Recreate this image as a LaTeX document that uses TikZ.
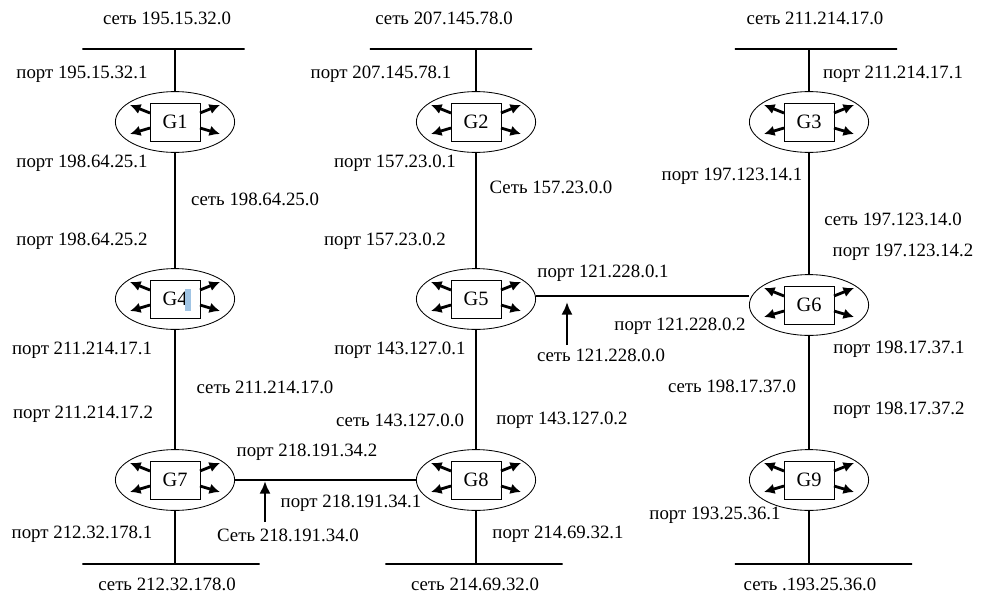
\documentclass[tikz,border=0pt]{standalone}
\usepackage{fontspec}
\setmainfont{Liberation Serif}
\usetikzlibrary{shapes.geometric,arrows.meta}
\definecolor{selblue}{RGB}{160,196,228}

\begin{document}
\begin{tikzpicture}
  [x=0.025cm,y=-0.025cm,
   font=\fontsize{13.4}{16}\selectfont,
   routerN/.style={draw,ellipse,line width=0.6pt,minimum width=2.98cm,minimum height=1.52cm,inner sep=0pt},
   gateN/.style={draw,rectangle,fill=white,line width=0.6pt,minimum width=1.25cm,minimum height=0.95cm,inner sep=0pt,font=\fontsize{14.5}{16}\selectfont},
   topBar/.style={draw,line width=1.2pt,minimum width=4.05cm,minimum height=0pt,inner sep=0pt},
   botBar/.style={topBar,minimum width=4.43cm},
   lbl/.style={inner sep=0pt},
   lnk/.style={line width=1.2pt},
   netArr/.style={line width=1.8pt,-{Latex[length=9pt,width=8pt]}},
   rArr/.style={line width=2pt,-{Latex[length=7.5pt,width=7.5pt]}},
  ]
 \useasboundingbox (0,0) rectangle (983,598);

 % routers
 \node[routerN] (g1) at (175,122) {};
 \node[routerN] (g2) at (476,122) {};
 \node[routerN] (g3) at (809,122) {};
 \node[routerN] (g4) at (175,299) {};
 \node[routerN] (g5) at (476,299) {};
 \node[routerN] (g6) at (809,305) {};
 \node[routerN] (g7) at (175,480) {};
 \node[routerN] (g8) at (476,480) {};
 \node[routerN] (g9) at (809,480) {};

 \foreach \i in {1,...,9}{
   \node[gateN] (b\i) at (g\i) {G\i};
   \draw[rArr] ([shift={(-25,-9)}]g\i.center) -- ++(-20,-8);
   \draw[rArr] ([shift={(-25,6)}]g\i.center)  -- ++(-20,6);
   \draw[rArr] ([shift={(25,-9)}]g\i.center)  -- ++(20,-8);
   \draw[rArr] ([shift={(25,6)}]g\i.center)   -- ++(20,6);
 }
 \fill[selblue] (185,289) rectangle (191,311);

 % network bars
 \node[topBar] (t1) at (163.5,49) {};
 \node[topBar] (t2) at (451,49)   {};
 \node[topBar] (t3) at (816,49)   {};
 \node[botBar] (d1) at (171,564)  {};
 \node[botBar] (d2) at (474,564)  {};
 \node[botBar] (d3) at (823.5,564) {};

 % links
 \draw[lnk] (t1 -| g1) -- (g1);
 \draw[lnk] (t2 -| g2) -- (g2);
 \draw[lnk] (t3 -| g3) -- (g3);
 \draw[lnk] (g1) -- (g4);
 \draw[lnk] (g2) -- (g5);
 \draw[lnk] (g3) -- (g6);
 \draw[lnk] (g4) -- (g7);
 \draw[lnk] (g5) -- (g8);
 \draw[lnk] (g6) -- (g9);
 \draw[lnk] (g7) -- (d1 -| g7);
 \draw[lnk] (g8) -- (d2 -| g8);
 \draw[lnk] (g9) -- (d3 -| g9);
 \draw[lnk] (g7) -- (g8);
 \draw[lnk] ([yshift=0.075cm]g5.east) -- ([yshift=0.075cm]g5.east -| g6.west);

 \coordinate (j78) at (265,481);
 \coordinate (a78) at (265,522);
 \coordinate (j56) at (567,302);
 \coordinate (a56) at (567,345);
 \draw[netArr] (a78) -- (j78);
 \draw[netArr] (a56) -- (j56);

 % network labels
 \node[lbl] (nt1) at (167,18)  {сеть 195.15.32.0};
 \node[lbl] (nt2) at (444,18)  {сеть 207.145.78.0};
 \node[lbl] (nt3) at (815,18)  {сеть 211.214.17.0};
 \node[lbl] (nd1) at (167,584) {сеть 212.32.178.0};
 \node[lbl] (nd2) at (475,584) {сеть 214.69.32.0};
 \node[lbl] (nd3) at (810,584) {сеть .193.25.36.0};
 \node[lbl] (n14) at (255,199) {сеть 198.64.25.0};
 \node[lbl] (n25) at (551,187) {Сеть 157.23.0.0};
 \node[lbl] (n36) at (893,219) {сеть 197.123.14.0};
 \node[lbl] (n47) at (265,387) {сеть 211.214.17.0};
 \node[lbl] (n58) at (400,420) {сеть 143.127.0.0};
 \node[lbl] (n69) at (732,386) {сеть 198.17.37.0};
 \node[lbl] (n56) at (601,355) {сеть 121.228.0.0};
 \node[lbl] (n78) at (288,535) {Сеть 218.191.34.0};

 % port labels
 \node[lbl] (p1a) at (82,74)   {порт 195.15.32.1};
 \node[lbl] (p1b) at (82,163)  {порт 198.64.25.1};
 \node[lbl] (p4a) at (82,241)  {порт 198.64.25.2};
 \node[lbl] (p4b) at (82,350)  {порт 211.214.17.1};
 \node[lbl] (p7a) at (83,414)  {порт 211.214.17.2};
 \node[lbl] (p7b) at (82,534)  {порт 212.32.178.1};
 \node[lbl] (p7c) at (307,452) {порт 218.191.34.2};
 \node[lbl] (p8c) at (351,503) {порт 218.191.34.1};
 \node[lbl] (p2a) at (381,74)  {порт 207.145.78.1};
 \node[lbl] (p2b) at (395,163) {порт 157.23.0.1};
 \node[lbl] (p5a) at (385,241) {порт 157.23.0.2};
 \node[lbl] (p5b) at (400,350) {порт 143.127.0.1};
 \node[lbl] (p8a) at (562,420) {порт 143.127.0.2};
 \node[lbl] (p8b) at (558,534) {порт 214.69.32.1};
 \node[lbl] (p5c) at (603,273) {порт 121.228.0.1};
 \node[lbl] (p6c) at (680,326) {порт 121.228.0.2};
 \node[lbl] (p3a) at (893,74)  {порт 211.214.17.1};
 \node[lbl] (p3b) at (732,176) {порт 197.123.14.1};
 \node[lbl] (p6a) at (903,252) {порт 197.123.14.2};
 \node[lbl] (p6b) at (899,349) {порт 198.17.37.1};
 \node[lbl] (p9a) at (899,410) {порт 198.17.37.2};
 \node[lbl] (p9b) at (715,515) {порт 193.25.36.1};

\end{tikzpicture}
\end{document}
